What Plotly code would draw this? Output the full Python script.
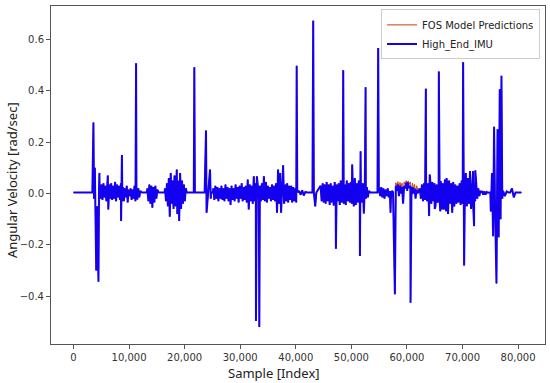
import numpy as np
import plotly.graph_objects as go

# ---------------- data ----------------
# quiet baseline samples
quiet_x = [0, 3400, 12400, 13200, 15350, 16400, 20450, 21650, 21850, 23600,
           24800, 25050, 40500, 42100, 43000, 43700, 53400, 54700, 54950, 73450, 80600]
quiet_y = [0.004] * len(quiet_x)

# noisy stretches: (start index, end index, values)
blob1_range = (4700, 12200)
blob1 = [0.03, -0.02, 0.035, -0.025, 0.04, -0.015, 0.03, -0.03, 0.025, -0.062,
         0.035, -0.02, 0.04, -0.025, 0.03, -0.02, 0.045, -0.03, 0.035, -0.015,
         0.03, -0.025, 0.04, -0.02, 0.025, -0.03, 0.02, -0.015, 0.03, -0.035,
         0.015, -0.01, 0.02, -0.025, 0.015, -0.02, 0.03, -0.03, 0.035, -0.02,
         0.02, -0.015, 0.01, 0.005]
blob2_range = (13300, 15280)
blob2 = [0.02, -0.03, 0.035, -0.04, 0.03, -0.055, 0.025, -0.035, 0.03, -0.02, 0.015, 0.005]
blob3_range = (16480, 20380)
blob3 = [0.02, -0.03, 0.04, -0.05, 0.06, -0.09, 0.045, -0.04, 0.05, -0.06,
         0.07, -0.05, 0.06, -0.08, 0.05, -0.107, 0.08, -0.06, 0.05, -0.04,
         0.035, -0.03, 0.02, 0.005]
blob4_range = (25170, 40450)
blob4 = [0.02, -0.025, 0.03, -0.02, 0.025, -0.03, 0.02, -0.02, 0.03, -0.025, 0.02, -0.03, 0.035, -0.02, 0.025, -0.03,
         0.02, -0.045, 0.03, -0.025, 0.02, -0.03, 0.035, -0.02, 0.025, -0.035, 0.03, -0.02, 0.04, -0.03, 0.025,
         -0.025, 0.03, -0.035, 0.054, -0.062, 0.035, -0.03, 0.03, -0.04, 0.067, -0.03, 0.04, -0.035, 0.03, -0.02,
         0.03, -0.03, 0.04, -0.025, 0.067, -0.03, 0.045, -0.035, 0.03, -0.02, 0.025, -0.03, 0.035, -0.025, 0.03,
         -0.03, 0.04, -0.075, 0.093, -0.04, 0.08, -0.075, 0.05, 0.11, -0.04, 0.035, -0.03, 0.04, -0.035, 0.03,
         -0.025, 0.03, -0.035, 0.025, -0.03, 0.02, -0.035, 0.015, 0.005]
blob4b_range = (40600, 42000)
blob4b = [0.01, -0.005, 0.012, -0.008, 0.006, 0.004]
blob5_range = (44470, 53330)
blob5 = [0.03, -0.03, 0.04, -0.035, 0.035, -0.04, 0.045, -0.03, 0.035, -0.045,
         0.04, -0.035, 0.03, -0.047, 0.045, -0.04, 0.035, -0.03, 0.04, -0.045,
         0.05, -0.035, 0.04, -0.04, 0.035, -0.045, 0.05, -0.03, 0.04, -0.035,
         0.045, -0.04, 0.035, -0.05, 0.06, -0.045, 0.04, -0.035, 0.05, -0.04,
         0.045, -0.035, 0.04, -0.078, 0.03, -0.02, 0.025, -0.015, 0.01, 0.005]
blob5b_range = (55000, 57500)
blob5b = [0.02, -0.01, 0.025, -0.015, 0.02, -0.02, 0.015, -0.01, 0.02, -0.015, 0.01, -0.02, 0.01, 0.005]
blob5c_range = (58000, 62300)
blob5c = [0.03, 0.01, 0.035, -0.01, 0.03, 0.0, 0.025, -0.04, 0.03, 0.02, 0.04, 0.01,
          0.035, 0.02, 0.03, -0.01, 0.025, 0.0, 0.02, -0.02, 0.015, 0.0, 0.01, 0.005]
blob5c_fos = [0.042, 0.03, 0.046, 0.01, 0.043, 0.02, 0.04, -0.03, 0.045, 0.036, 0.05, 0.03,
              0.048, 0.036, 0.045, 0.01, 0.04, 0.02, 0.035, 0.0, 0.03, 0.015, 0.02, 0.01]
blob6_range = (62320, 73410)
blob6 = [0.02, -0.02, 0.035, -0.03, 0.04, -0.025, 0.045, -0.03, 0.04, -0.035,
         0.05, -0.04, 0.045, -0.03, 0.04, -0.05, 0.035, -0.036, 0.04, -0.03,
         0.048, -0.062, 0.04, -0.062, 0.054, -0.069, 0.045, -0.08, 0.05, -0.04,
         0.04, -0.075, 0.045, -0.05, 0.035, -0.04, 0.03, -0.035, 0.04, -0.045,
         0.05, -0.04, 0.045, -0.035, 0.08, -0.05, 0.06, -0.04, 0.087, -0.06,
         0.05, -0.04, 0.04, -0.03, 0.03, -0.02, 0.02, -0.01, 0.01, 0.005]
blob6b_range = (73500, 75000)
blob6b = [0.01, -0.005, 0.008, -0.004, 0.006, 0.003, 0.004, 0.004]
blob7_range = (77300, 80500)
blob7 = [0.01, -0.01, 0.008, 0.004, 0.004, 0.02, -0.015, 0.004, 0.004, 0.004, 0.004]

# isolated spikes (sample index, angular velocity)
spike_x = [3595, 3700, 3850, 4100, 4250, 4500, 4600, 4670, 6180, 8570, 8650, 8720, 8800,
           11270, 11350, 17500, 18590, 21750, 23850, 23950, 24570, 24700,
           32840, 33000, 33440, 40160, 43140, 43250, 43500, 47220, 48540, 50150, 51540, 51660,
           52560, 54830, 57050, 57830, 60100, 60650, 63400, 63990, 64100, 65000, 65740,
           66000, 67120, 70110, 70290, 71900, 72080, 72300,
           75090, 75300, 75500, 75680, 75850, 76110, 76300, 76500, 76700, 76850, 77010, 77150]
spike_y = [0.276, -0.02, 0.10, -0.30, -0.05, -0.344, 0.02, 0.08, 0.07, -0.107, 0.106, 0.15, -0.03,
           0.507, -0.02, 0.08, 0.093, 0.492, 0.245, -0.075, 0.093, -0.02,
           -0.496, 0.067, -0.52, 0.497, 0.673, 0.004, -0.05, -0.215, 0.48, 0.113, -0.243, 0.164,
           0.414, 0.566, -0.075, -0.392, 0.045, -0.425, 0.408, -0.088, 0.074, -0.06, 0.475,
           -0.069, 0.06, 0.511, -0.28, 0.087, -0.127, 0.09,
           -0.07, 0.08, -0.166, 0.26, -0.05, -0.35, 0.25, -0.17, 0.406, -0.1, 0.458, -0.02]

x_ticks = [0, 10000, 20000, 30000, 40000, 50000, 60000, 70000, 80000]
y_ticks = [-0.4, -0.2, 0.0, 0.2, 0.4, 0.6]

segments = [(blob1_range, blob1, blob1), (blob2_range, blob2, blob2), (blob3_range, blob3, blob3),
            (blob4_range, blob4, blob4), (blob4b_range, blob4b, blob4b), (blob5_range, blob5, blob5),
            (blob5b_range, blob5b, blob5b), (blob5c_range, blob5c, blob5c_fos),
            (blob6_range, blob6, blob6), (blob6b_range, blob6b, blob6b), (blob7_range, blob7, blob7)]

# ---------------- assemble series ----------------
xs, ys_imu, ys_fos = [], [], []
for x, y in zip(quiet_x, quiet_y):
    xs.append(x); ys_imu.append(y); ys_fos.append(y)
for x, y in zip(spike_x, spike_y):
    xs.append(x); ys_imu.append(y); ys_fos.append(y)
for (a, b), vals, fvals in segments:
    sx = np.linspace(a, b, len(vals))
    for x, y, f in zip(sx, vals, fvals):
        xs.append(float(x)); ys_imu.append(y); ys_fos.append(f)

order = np.argsort(xs, kind="stable")
xs = np.array(xs)[order]
ys_imu = np.array(ys_imu)[order]
ys_fos = np.array(ys_fos)[order]

fig = go.Figure()
fig.add_trace(go.Scatter(x=xs, y=ys_fos, mode="lines", name="FOS Model Predictions",
                         line=dict(color="#cc3a10", width=1.0)))
fig.add_trace(go.Scatter(x=xs, y=ys_imu, mode="lines", name="High_End_IMU",
                         line=dict(color="#1400f0", width=2.0)))

axis_common = dict(showline=True, linecolor="#555555", linewidth=1, mirror=True,
                   ticks="outside", ticklen=4, tickcolor="#555555", showgrid=False,
                   zeroline=False, automargin=False,
                   tickfont=dict(family="DejaVu Sans", size=10, color="#333333"))

fig.update_layout(
    width=550, height=383,
    margin=dict(l=51, r=5, t=6, b=39),
    paper_bgcolor="white", plot_bgcolor="white",
    showlegend=True,
    legend=dict(x=0.99, y=0.99, xanchor="right", yanchor="top",
                bgcolor="rgba(255,255,255,0.9)", bordercolor="#cccccc", borderwidth=1,
                font=dict(family="DejaVu Sans", size=10, color="#222222"),
                itemwidth=30, tracegroupgap=0),
    xaxis=dict(range=[-4040, 84840], tickvals=x_ticks, tickformat=",d", **axis_common),
    yaxis=dict(range=[-0.586, 0.730], tickvals=y_ticks, tickformat=".1f", **axis_common),
    annotations=[
        dict(text="Sample [Index]", xref="paper", yref="paper", x=0.452, y=-0.086,
             xanchor="center", yanchor="middle", showarrow=False,
             font=dict(family="Noto Sans", size=13, color="#222222")),
        dict(text="Angular Velocity [rad/sec]", xref="paper", yref="paper", x=-0.079, y=0.485,
             xanchor="center", yanchor="middle", showarrow=False, textangle=-90,
             font=dict(family="Noto Sans", size=13, color="#222222")),
    ],
)

fig.write_html("out.html", config={"displayModeBar": False},
               post_script="document.body.style.margin='0px';document.body.style.overflow='hidden';")
